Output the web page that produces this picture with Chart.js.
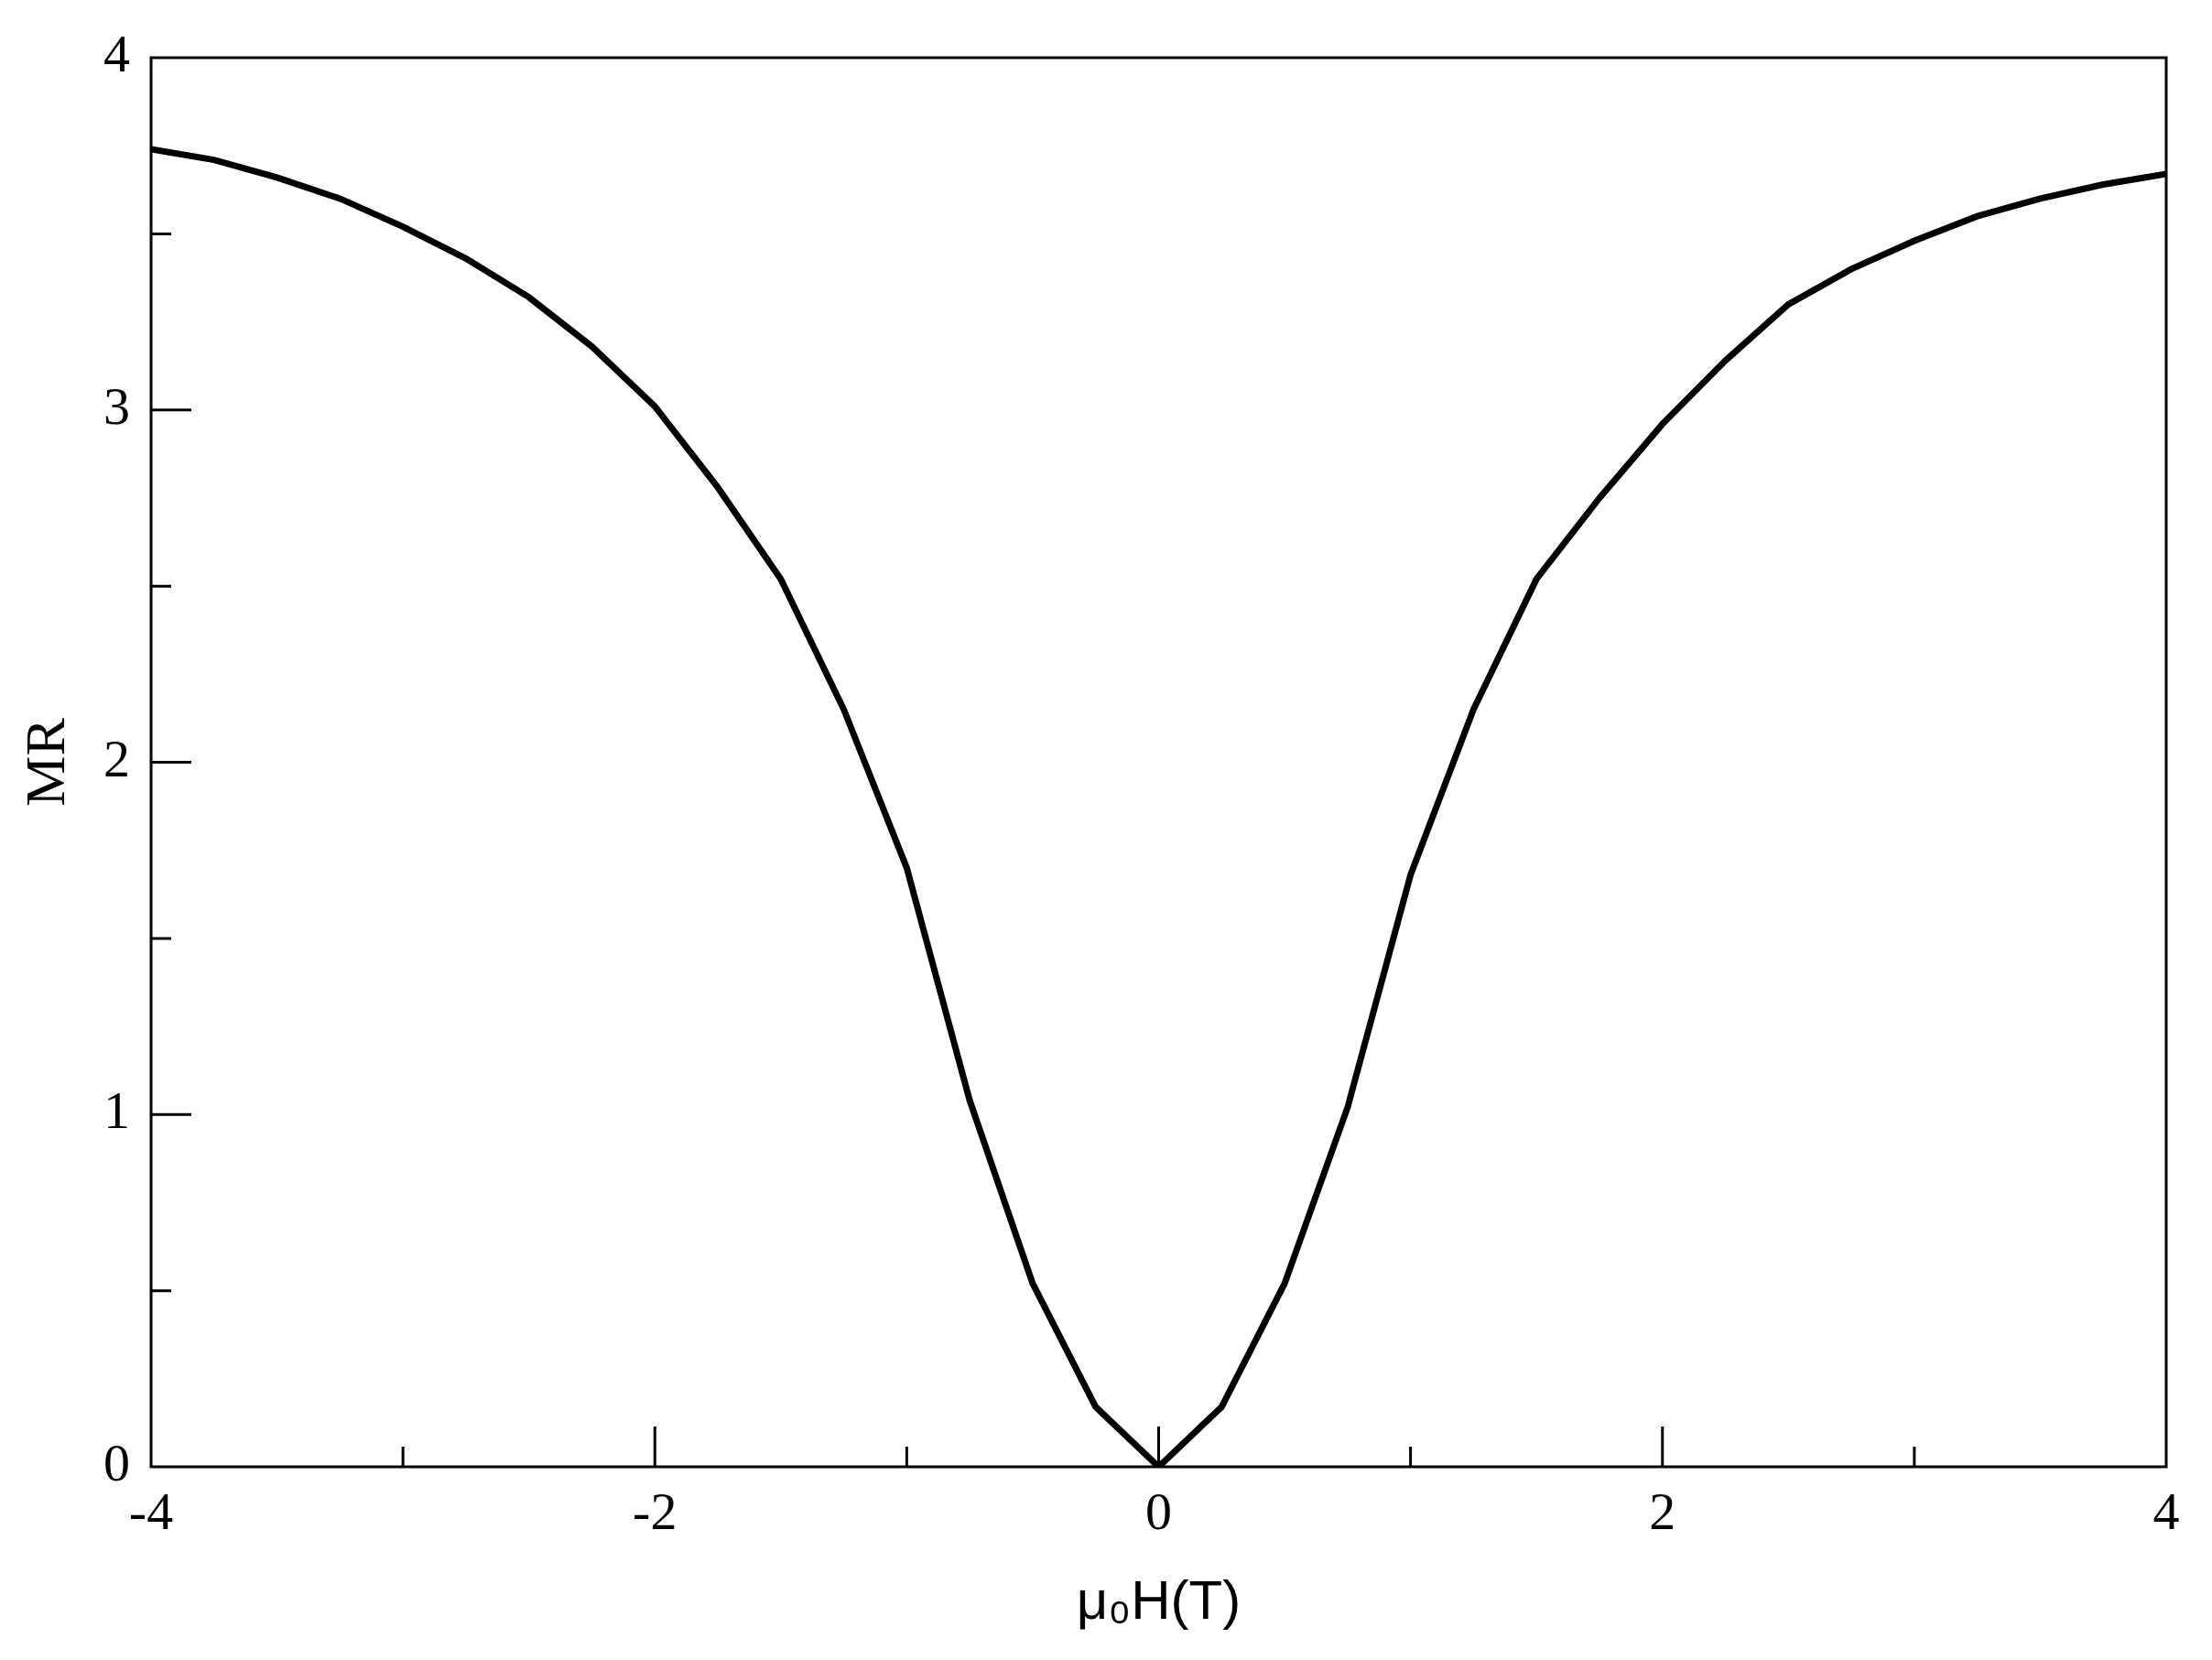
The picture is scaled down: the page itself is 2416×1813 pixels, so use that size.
<!DOCTYPE html>
<html>
<head>
<meta charset="utf-8">
<title>MR vs field</title>
<script src="https://cdn.jsdelivr.net/npm/chart.js@4.4.1/dist/chart.umd.min.js"></script>
<style>
    html, body { margin: 0; padding: 0; background: #fff; }
    #wrap { width: 2416px; height: 1813px; }
</style>
</head>
<body>
<div id="wrap"><canvas id="mrChart" width="2416" height="1813"></canvas></div>
<script>
// Field (T) and magnetoresistance
var fieldT = [-4, -3.75, -3.5, -3.25, -3, -2.75, -2.5, -2.25, -2, -1.75, -1.5, -1.25, -1, -0.75, -0.5, -0.25,
    0, 0.25, 0.5, 0.75, 1, 1.25, 1.5, 1.75, 2, 2.25, 2.5, 2.75, 3, 3.25, 3.5, 3.75, 4];
var mrValues = [3.74, 3.71, 3.66, 3.60, 3.52, 3.43, 3.32, 3.18, 3.01, 2.78, 2.52, 2.15, 1.70, 1.04, 0.52, 0.17,
    0, 0.17, 0.52, 1.02, 1.68, 2.15, 2.52, 2.75, 2.96, 3.14, 3.30, 3.40, 3.48, 3.55, 3.60, 3.64, 3.67];

// tick marks drawn inside the frame
var xMajorTicks = [-2, 0, 2];
var xMinorTicks = [-3, -1, 1, 3];
var yMajorTicks = [1, 2, 3];
var yMinorTicks = [0.5, 1.5, 2.5, 3.5];

var points = fieldT.map(function(h, i) { return { x: h, y: mrValues[i] }; });

var frameTicks = {
    id: 'frameTicks',
    afterDatasetsDraw: function(chart) {
        var ctx = chart.ctx;
        var a = chart.chartArea;
        var xs = chart.scales.x;
        var ys = chart.scales.y;
        ctx.save();
        ctx.strokeStyle = '#000';
        ctx.lineWidth = 3;
        ctx.strokeRect(a.left, a.top, a.right - a.left, a.bottom - a.top);

        ctx.beginPath();
        xMajorTicks.forEach(function(v) {
            var px = xs.getPixelForValue(v);
            ctx.moveTo(px, a.bottom); ctx.lineTo(px, a.bottom - 44);
        });
        xMinorTicks.forEach(function(v) {
            var px = xs.getPixelForValue(v);
            ctx.moveTo(px, a.bottom); ctx.lineTo(px, a.bottom - 22);
        });
        yMajorTicks.forEach(function(v) {
            var py = ys.getPixelForValue(v);
            ctx.moveTo(a.left, py); ctx.lineTo(a.left + 44, py);
        });
        yMinorTicks.forEach(function(v) {
            var py = ys.getPixelForValue(v);
            ctx.moveTo(a.left, py); ctx.lineTo(a.left + 22, py);
        });
        ctx.stroke();
        ctx.restore();
    }
};

var ctx = document.getElementById('mrChart').getContext('2d');
new Chart(ctx, {
    type: 'scatter',
    data: {
        datasets: [{
            label: 'MR',
            data: points,
            showLine: true,
            borderColor: '#000',
            borderWidth: 7,
            pointRadius: 0,
            tension: 0,
            fill: false
        }]
    },
    options: {
        responsive: false,
        animation: false,
        devicePixelRatio: 1,
        layout: { padding: { left: 0, top: 63, right: 50, bottom: 0 } },
        plugins: {
            legend: { display: false },
            tooltip: { enabled: false }
        },
        scales: {
            x: {
                type: 'linear',
                min: -4,
                max: 4,
                afterFit: function(scale) { scale.height = 211; },
                grid: { display: false, drawTicks: false },
                border: { display: false },
                ticks: {
                    stepSize: 2,
                    color: '#000',
                    padding: 18,
                    font: { family: 'Liberation Serif', size: 58 }
                },
                title: {
                    display: true,
                    text: 'μ₀H(T)',
                    color: '#000',
                    padding: { top: 0, bottom: 26 },
                    font: { family: 'Liberation Sans', size: 60 }
                }
            },
            y: {
                type: 'linear',
                min: 0,
                max: 4,
                afterFit: function(scale) { scale.width = 165; },
                grid: { display: false, drawTicks: false },
                border: { display: false },
                ticks: {
                    stepSize: 1,
                    color: '#000',
                    padding: 23,
                    font: { family: 'Liberation Serif', size: 58 }
                },
                title: {
                    display: true,
                    text: 'MR',
                    color: '#000',
                    padding: { top: 17, bottom: 0 },
                    font: { family: 'Liberation Serif', size: 62 }
                }
            }
        }
    },
    plugins: [frameTicks]
});
</script>
</body>
</html>
